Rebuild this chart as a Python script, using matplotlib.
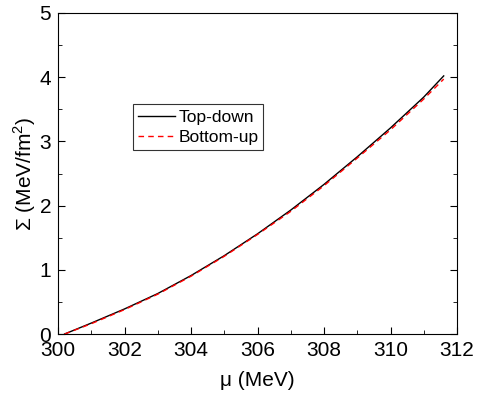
import matplotlib
matplotlib.use("Agg")
import matplotlib.pyplot as plt
from matplotlib.ticker import MultipleLocator

plt.rcParams['font.family'] = ['Liberation Sans', 'DejaVu Sans']
plt.rcParams['mathtext.fontset'] = 'custom'
plt.rcParams['mathtext.rm'] = 'Liberation Sans'

# curve values
mu_top = [300.2, 301, 302, 303, 304, 305, 306, 307, 308, 309, 310, 311, 311.6]
sigma_top = [0.0, 0.17, 0.39, 0.63, 0.91, 1.22, 1.56, 1.93, 2.33, 2.76, 3.21, 3.69, 4.02]

mu_bottom = [300.2, 301, 302, 303, 304, 305, 306, 307, 308, 309, 310, 311, 311.6]
sigma_bottom = [0.0, 0.16, 0.38, 0.62, 0.90, 1.21, 1.55, 1.91, 2.31, 2.74, 3.18, 3.66, 3.97]

fig = plt.figure(figsize=(4.81, 3.97), dpi=100)
ax = fig.add_axes([58 / 481, 1 - 334 / 397, 399 / 481, 321 / 397])

ax.plot(mu_top, sigma_top, color='black', lw=1.0, label='Top-down')
ax.plot(mu_bottom, sigma_bottom, color='red', lw=1.0, ls=(0, (4, 3)), label='Bottom-up')

ax.set_xlim(300, 312)
ax.set_ylim(0, 5)
ax.xaxis.set_major_locator(MultipleLocator(2))
ax.xaxis.set_minor_locator(MultipleLocator(1))
ax.yaxis.set_major_locator(MultipleLocator(1))
ax.yaxis.set_minor_locator(MultipleLocator(0.5))
ax.tick_params(which='both', direction='in', right=True, top=False, labelsize=15)
ax.tick_params(which='major', length=5)
ax.tick_params(which='minor', length=3)
ax.tick_params(axis='x', pad=5)
ax.tick_params(axis='y', pad=5)

ax.set_xlabel('μ (MeV)', fontsize=15, labelpad=8)
ax.set_ylabel('Σ (MeV/fm$^2$)', fontsize=15, labelpad=1)

leg = ax.legend(loc='upper left', bbox_to_anchor=(0.188, 0.715), fontsize=12.5,
                frameon=True, fancybox=False, edgecolor='black', handlelength=2.1,
                handletextpad=0.2, borderpad=0.3, labelspacing=0.3, borderaxespad=0)
leg.get_frame().set_linewidth(0.8)

fig.savefig('out.png', dpi=100)
